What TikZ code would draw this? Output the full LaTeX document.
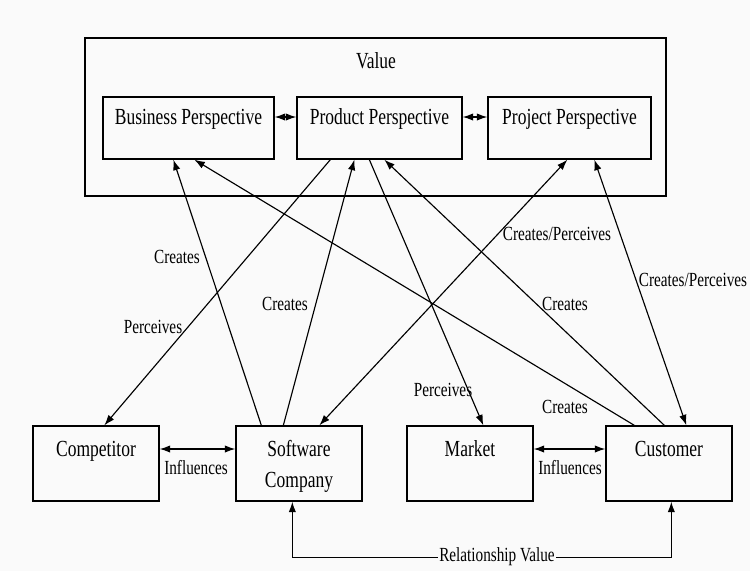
\documentclass[tikz,border=0pt]{standalone}
\usepackage{fontspec}
\setmainfont[FakeStretch=0.76]{Liberation Serif}
\usetikzlibrary{arrows.meta}
\definecolor{paper}{RGB}{250,250,250}

\begin{document}
\begin{tikzpicture}[
		persp/.style={draw,line width=0.75pt,minimum width=#1,minimum height=1.24cm,inner sep=0pt,
			text height=0.55cm,text depth=0.69cm,font=\fontsize{13.1}{17.6}\selectfont},
		actor/.style={draw,line width=0.75pt,minimum width=2.52cm,minimum height=1.5cm,inner sep=0pt,
			align=center,text height=0.61cm,text depth=0.89cm,font=\fontsize{13.1}{17.6}\selectfont},
		lbl/.style={inner sep=1pt,font=\fontsize{11.4}{13}\selectfont},
		link/.style={line width=0.65pt,-{Latex[length=6pt,width=4.2pt]}},
		both/.style={line width=0.65pt,{Latex[length=6pt,width=4.2pt]}-{Latex[length=6pt,width=4.2pt]}}
		]
		%
		\path[fill=paper] (0,0) rectangle (15,-11.42);
		%
		\draw[line width=0.75pt] (1.7,-0.76) rectangle (13.32,-3.92);
		\node[font=\fontsize{13.1}{17.6}\selectfont] (value) at (7.52,-1.22) {Value};
		%
		\node[persp=3.42cm] (bus) at (3.77,-2.56) {Business Perspective};
		\node[persp=3.3cm] (prod) at (7.59,-2.56) {Product Perspective};
		\node[persp=3.26cm] (proj) at (11.39,-2.56) {Project Perspective};
		%
		\node[actor] (comp) at (1.92,-9.27) {Competitor};
		\node[actor,text height=1.23cm,text depth=0.27cm] (soft) at (5.98,-9.27) {Software\\Company};
		\node[actor] (mkt) at (9.4,-9.27) {Market};
		\node[actor] (cust) at (13.38,-9.27) {Customer};
		%
		\draw[both] ([yshift=0.22cm]bus.east) -- ([yshift=0.22cm]prod.west);
		\draw[both] ([yshift=0.22cm]prod.east) -- ([yshift=0.22cm]proj.west);
		\draw[both] ([yshift=0.29cm]comp.east) -- ([yshift=0.29cm]soft.west);
		\draw[both] ([yshift=0.29cm]mkt.east) -- ([yshift=0.29cm]cust.west);
		%
		\draw[link] ([xshift=0.68cm]prod.south west) -- ([xshift=1.44cm]comp.north west);
		\draw[link] ([xshift=0.52cm]soft.north west) -- ([xshift=1.42cm]bus.south west);
		\draw[link] ([xshift=0.96cm]soft.north west) -- ([xshift=1.16cm]prod.south west);
		\draw[both] ([xshift=1.60cm]proj.south west) -- ([xshift=1.68cm]soft.north west);
		\draw[link] ([xshift=1.46cm]prod.south west) -- ([xshift=1.54cm]mkt.north west);
		\draw[link] ([xshift=0.58cm]cust.north west) -- ([xshift=1.84cm]bus.south west);
		\draw[link] ([xshift=1.18cm]cust.north west) -- ([xshift=1.76cm]prod.south west);
		\draw[both] ([xshift=2.14cm]proj.south west) -- ([xshift=1.62cm]cust.north west);
		%
		\draw[both] ([xshift=1.14cm]soft.south west) -- ++(0,-1.12) -| ([xshift=1.32cm]cust.south west);
		%
		\node[lbl] (cr1) at (3.54,-5.14) {Creates};
		\node[lbl] (cr2) at (5.70,-6.08) {Creates};
		\node[lbl] (pc1) at (3.06,-6.54) {Perceives};
		\node[lbl] (cp1) at (11.14,-4.68) {Creates/Perceives};
		\node[lbl] (pc2) at (8.86,-7.80) {Perceives};
		\node[lbl] (cr3) at (11.30,-8.14) {Creates};
		\node[lbl] (cr4) at (11.30,-6.08) {Creates};
		\node[lbl] (cp2) at (13.86,-5.60) {Creates/Perceives};
		\node[lbl] (inf1) at (3.92,-9.36) {Influences};
		\node[lbl] (inf2) at (11.40,-9.36) {Influences};
		\node[lbl,fill=paper] (rel) at (9.94,-11.14) {Relationship Value};
		\end{tikzpicture}
\end{document}
